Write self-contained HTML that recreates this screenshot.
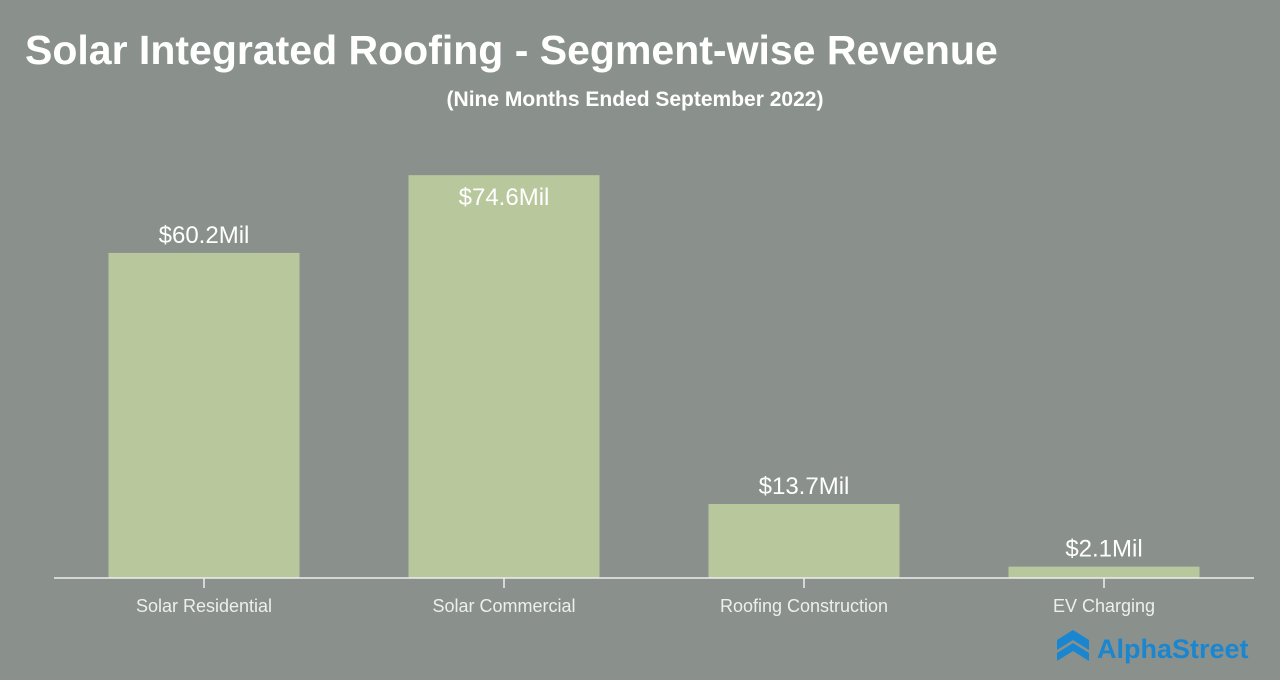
<!DOCTYPE html>
<html><head><meta charset="utf-8"><style>
body{margin:0;width:1280px;height:680px;background:#8a918d;overflow:hidden;font-family:"Liberation Sans",sans-serif}
svg{position:absolute;left:0;top:0}
</style></head><body>
<svg width="1280" height="680">
<text x="25" y="64" font-size="41" font-weight="bold" fill="#fff">Solar Integrated Roofing - Segment-wise Revenue</text>
<text x="635" y="106" font-size="21" font-weight="bold" fill="#fff" text-anchor="middle">(Nine Months Ended September 2022)</text>
<g id="bars"></g>
<line x1="54" y1="578" x2="1254" y2="578" stroke="#eee" stroke-width="1.5"/>
<g>
<path d="M1057 640 L1073 630 L1089 640 L1089 650 L1073 640 L1057 650Z" fill="#1a86d0"/>
<path d="M1057 653 L1073 643 L1089 653 L1089 661 L1073 651 L1057 661Z" fill="#1a86d0"/>
<text x="1097" y="658" font-size="27" font-weight="bold" fill="#1a86d0">AlphaStreet</text>
</g>
</svg>
<script>
const categories=["Solar Residential","Solar Commercial","Roofing Construction","EV Charging"];
const values=[60.2,74.6,13.7,2.1];
const labels=["$60.2Mil","$74.6Mil","$13.7Mil","$2.1Mil"];
const NS="http://www.w3.org/2000/svg";
const g=document.getElementById("bars");
const x0=54,band=300,bw=191,base=578,k=5.4;
const xs=i=>x0+band*i+band/2;
const ys=v=>base-v*k;
function mk(t,a){const e=document.createElementNS(NS,t);for(const n in a)e.setAttribute(n,a[n]);g.appendChild(e);return e;}
categories.forEach((c,i)=>{
 const cx=xs(i),top=ys(values[i]);
 const r=mk("rect",{x:cx-bw/2,y:top,width:bw,height:base-top,fill:"#b9c79c"});
 
 
 const inside=i===1;
 const vl=mk("text",{x:cx,y:inside?top+30:top-10,"font-size":24,fill:"#fff","text-anchor":"middle"});
 vl.textContent=labels[i];
 
 
 const tk=mk("line",{x1:cx,y1:base,x2:cx,y2:base+10,stroke:"#eee","stroke-width":1.5});
 
 
 const cl=mk("text",{x:cx,y:612,"font-size":18,fill:"#eeeeee","text-anchor":"middle","font-family":"'Liberation Sans Narrow','Liberation Sans',sans-serif"});
 cl.textContent=c;
 
 
});
</script>
</body></html>
